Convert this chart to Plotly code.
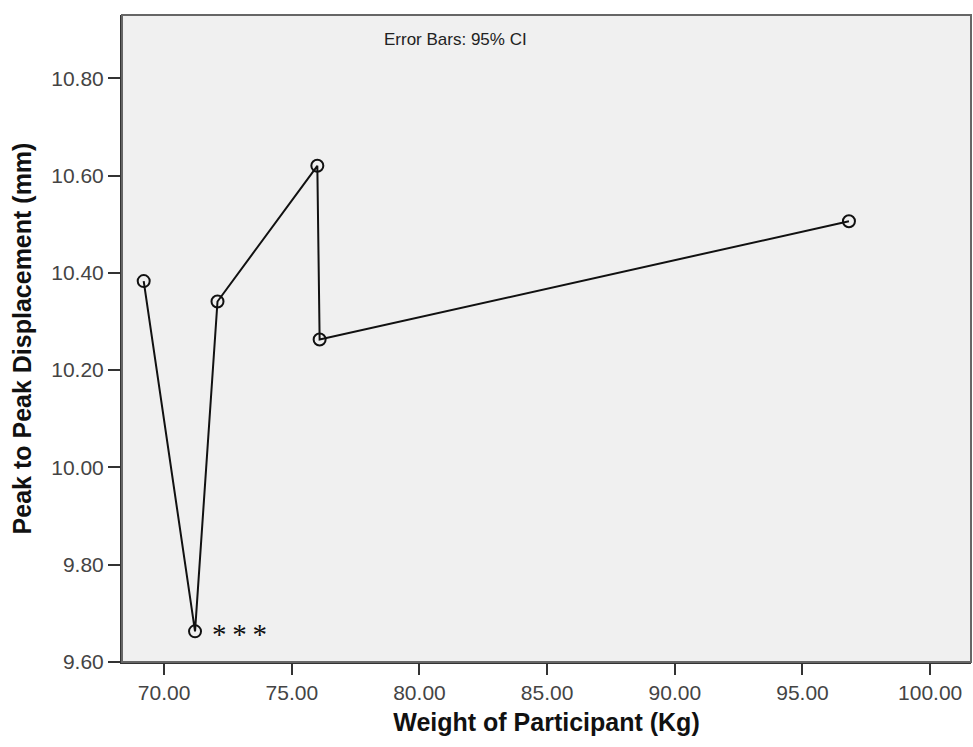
import plotly.graph_objects as go

# Mean peak-to-peak displacement for each participant weight
weight_kg = [69.20, 71.21, 72.09, 76.00, 76.09, 96.82]
displacement_mm = [10.383, 9.663, 10.341, 10.620, 10.263, 10.506]

x_ticks = [70, 75, 80, 85, 90, 95, 100]
y_ticks = [9.6, 9.8, 10.0, 10.2, 10.4, 10.6, 10.8]

fig = go.Figure()
fig.add_trace(go.Scatter(
    x=weight_kg,
    y=displacement_mm,
    mode="lines+markers",
    line=dict(color="#111111", width=2),
    marker=dict(symbol="circle-open", size=12, color="#111111",
                line=dict(width=2, color="#111111")),
    showlegend=False,
))

# significance marker next to the lowest mean
fig.add_annotation(
    x=weight_kg[1], y=displacement_mm[1], xref="x", yref="y",
    text="*\u2009*\u2009*", showarrow=False, xanchor="left", yanchor="middle",
    xshift=15, yshift=-3,
    font=dict(family="Liberation Serif", size=29, color="#111111"),
)

fig.add_annotation(
    x=0.393, y=0.962, xref="paper", yref="paper",
    text="Error Bars: 95% CI", showarrow=False,
    xanchor="center", yanchor="middle",
    font=dict(family="Liberation Sans", size=17, color="#222222"),
)

# plot frame
fig.add_shape(type="rect", xref="paper", yref="paper", x0=0, y0=0, x1=1, y1=1,
              line=dict(color="#666666", width=2), layer="above")

tick_font = dict(family="Liberation Sans", size=21, color="#444444")
title_font = dict(family="Liberation Sans", size=25, color="#111111")

fig.update_xaxes(
    range=[68.35, 101.6],
    tickvals=x_ticks,
    ticktext=[f"{v:.2f}" for v in x_ticks],
    ticks="outside", ticklen=11, tickwidth=2, tickcolor="#333333",
    showline=True, linecolor="#333333", linewidth=2,
    showgrid=False, zeroline=False,
    tickfont=tick_font,
    title=dict(text="<b>Weight of Participant (Kg)</b>", font=title_font, standoff=10),
)
fig.update_yaxes(
    range=[9.6, 10.93],
    tickvals=y_ticks,
    ticktext=[f"{v:.2f}" for v in y_ticks],
    ticks="outside", ticklen=12, tickwidth=2, tickcolor="#333333",
    showline=True, linecolor="#333333", linewidth=2,
    showgrid=False, zeroline=False,
    tickfont=tick_font,
    title=dict(text="<b>Peak to Peak Displacement (mm)</b>", font=title_font, standoff=12),
)

fig.update_layout(
    width=973, height=747,
    margin=dict(l=122, r=2, t=15, b=85),
    plot_bgcolor="#f0f0f0",
    paper_bgcolor="#ffffff",
)

fig.write_html("out.html")
